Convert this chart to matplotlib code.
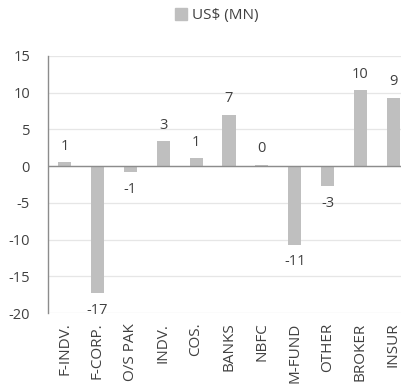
import matplotlib
matplotlib.use("Agg")
import matplotlib.pyplot as plt
from matplotlib.patches import Patch

# net flows by investor type, US$ mn
categories = ["F-INDV.", "F-CORP.", "O/S PAK", "INDV.", "COS.", "BANKS",
              "NBFC", "M-FUND", "OTHER", "BROKER", "INSUR"]
values = [0.55, -17.3, -0.8, 3.4, 1.1, 7.0, 0.2, -10.7, -2.7, 10.3, 9.3]
yticks = [-20, -15, -10, -5, 0, 5, 10, 15]
series_name = "US$ (MN)"

bar_color = "#BFBFBF"
text_color = "#404040"

plt.rcParams["font.family"] = ["Open Sans", "DejaVu Sans"]
plt.rcParams["font.size"] = 10

fig = plt.figure(figsize=(4.01, 3.85), dpi=100)
ax = fig.add_axes([0.12, 0.187, 0.902, 0.668])

x = list(range(len(categories)))
ax.bar(x, values, width=0.4, color=bar_color, zorder=2)

for xi, v in zip(x, values):
    if v >= 0:
        ax.annotate(f"{v:.0f}", (xi, v), xytext=(0, 6), textcoords="offset points",
                    ha="center", va="bottom", color=text_color, fontsize=10.5)
    else:
        ax.annotate(f"{v:.0f}", (xi, v), xytext=(0, -7), textcoords="offset points",
                    ha="center", va="top", color=text_color, fontsize=10.5)

ax.set_xlim(-0.5, len(categories) - 0.5)
ax.set_ylim(-20, 15)
ax.set_yticks(yticks)
ax.set_yticklabels([str(t) for t in yticks], fontsize=10.5)
ax.set_xticks(x)
ax.set_xticklabels(categories, rotation=90, fontsize=11)
ax.tick_params(axis="both", length=0, colors=text_color)
ax.tick_params(axis="x", pad=7)
ax.tick_params(axis="y", pad=13)

ax.grid(axis="y", color="#E6E6E6", linewidth=0.9, zorder=0)
ax.axhline(0, color="#8C8C8C", linewidth=1.0, zorder=3)
for side in ["top", "right", "bottom"]:
    ax.spines[side].set_visible(False)
ax.spines["left"].set_color("#8C8C8C")
ax.spines["left"].set_linewidth(1.0)

fig.legend(handles=[Patch(color=bar_color, label=series_name)],
           loc="center", bbox_to_anchor=(0.54, 0.96), frameon=False,
           handlelength=0.8, handleheight=0.8, handletextpad=0.3,
           fontsize=11, labelcolor=text_color)

fig.savefig("out.png", dpi=100)
